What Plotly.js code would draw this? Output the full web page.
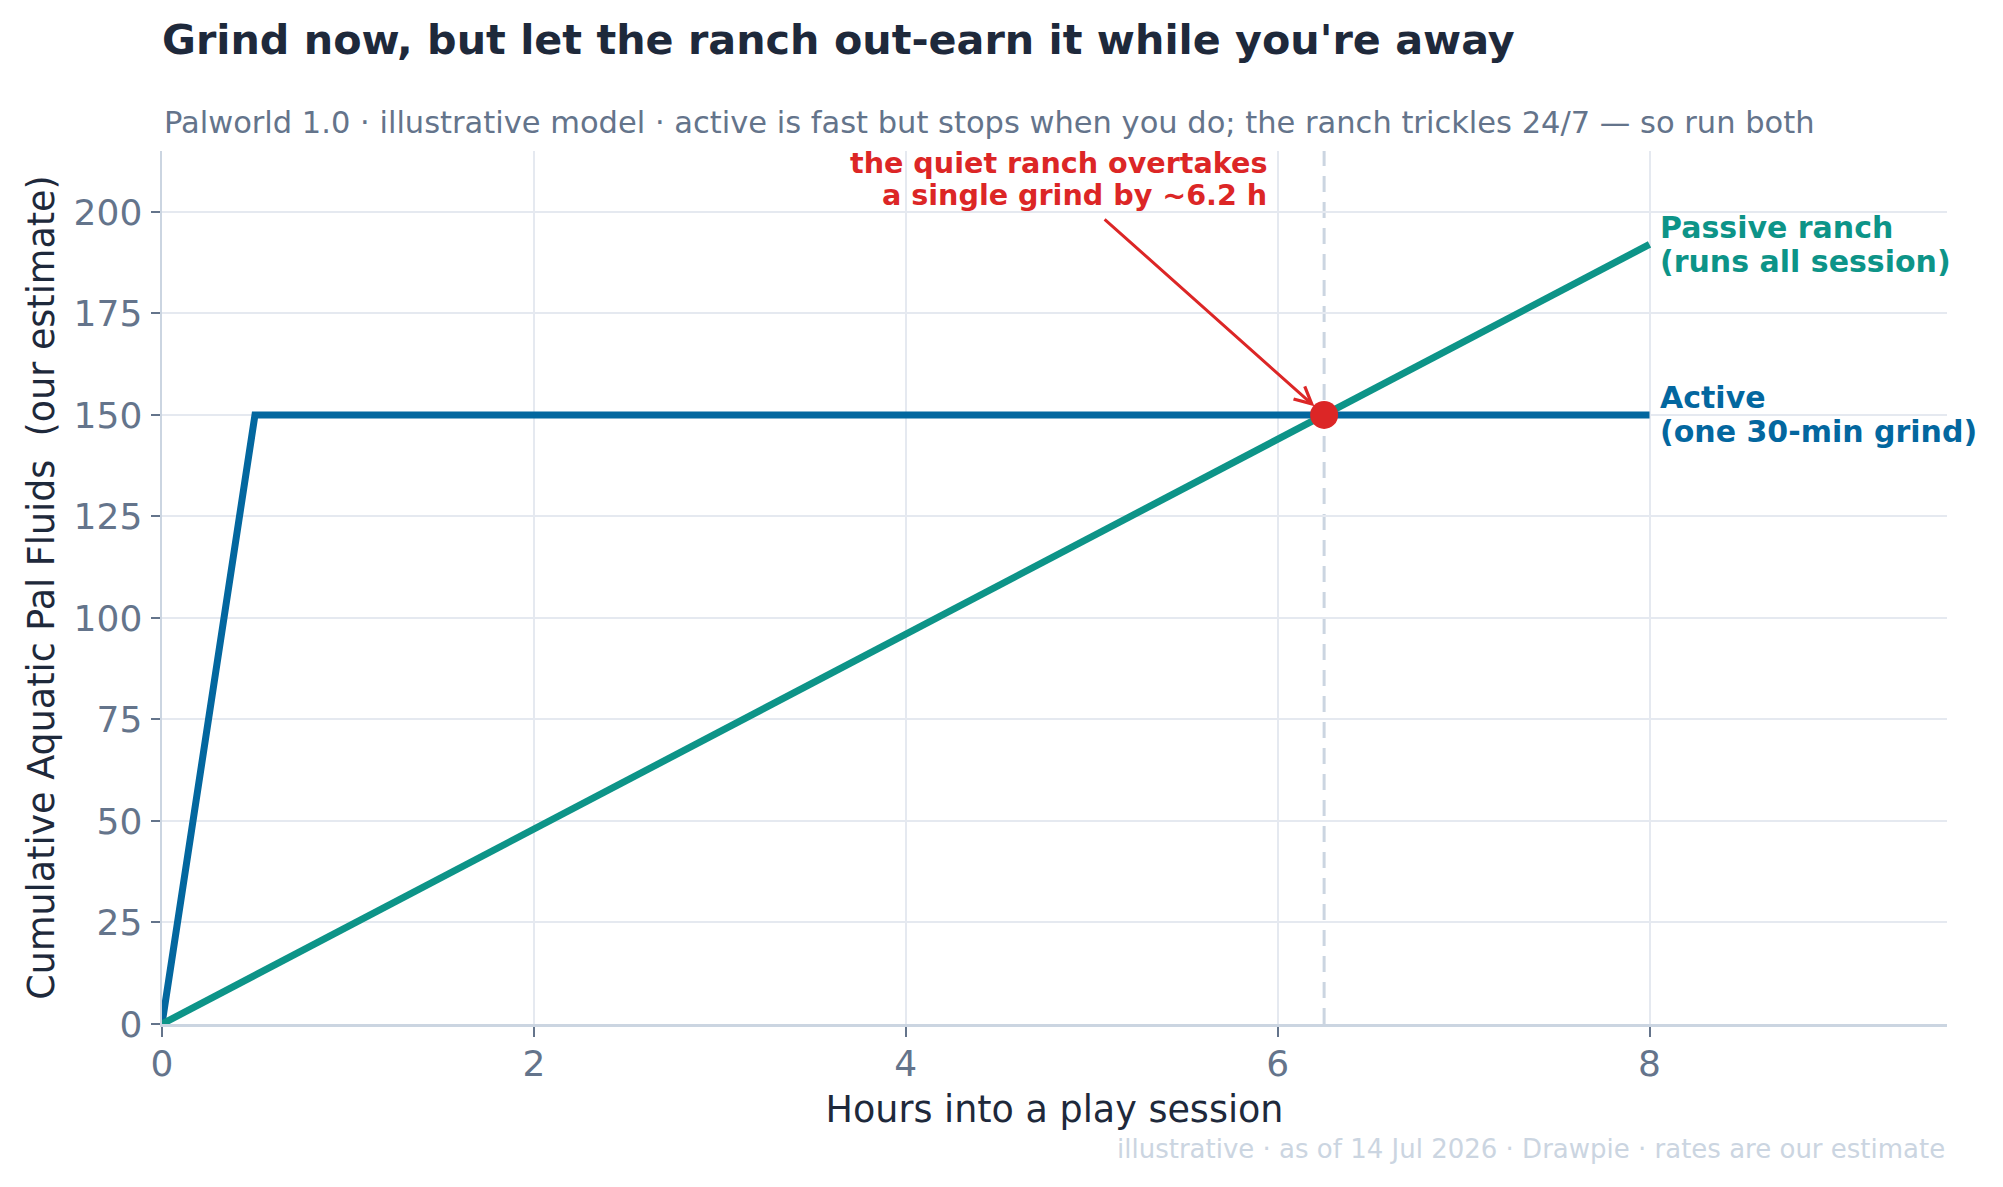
<!DOCTYPE html>
<html>
<head>
<meta charset="utf-8">
<script src="https://cdn.plot.ly/plotly-3.0.1.min.js"></script>
<style>html,body{margin:0;padding:0;background:#fff;}#chart{width:2003px;height:1187px;}</style>
</head>
<body>
<div id="chart"></div>
<script>
// ---- data ----
const activeHours = [0, 0.5, 8];
const activeFluids = [0, 150, 150];
const passiveHours = [0, 8];
const passiveFluids = [0, 192];
const crossHour = [6.25];
const crossFluids = [150];
const xTicks = [0, 2, 4, 6, 8];
const yTicks = [0, 25, 50, 75, 100, 125, 150, 175, 200];

const titleText = "Grind now, but let the ranch out-earn it while you're away";
const subtitleText = "Palworld 1.0 · illustrative model · active is fast but stops when you do; the ranch trickles 24/7 — so run both";
const footerText = "illustrative · as of 14 Jul 2026 · Drawpie · rates are our estimate";
const activeLabelLines = ["Active", "(one 30-min grind)"];
const passiveLabelLines = ["Passive ranch", "(runs all session)"];
const crossLabelLines = ["the quiet ranch overtakes", "a single grind by ~6.2 h"];

const FONT = "DejaVu Sans, sans-serif";
const BLUE = "#03679f", TEAL = "#0d9488", RED = "#dc2626";

const traces = [
  {x: activeHours, y: activeFluids, mode: "lines", line: {color: BLUE, width: 7}, hoverinfo: "skip"},
  {x: passiveHours, y: passiveFluids, mode: "lines", line: {color: TEAL, width: 7}, hoverinfo: "skip"},
  {x: crossHour, y: crossFluids, mode: "markers", marker: {color: RED, size: 28}, hoverinfo: "skip"}
];

const annotations = [
  {xref: "paper", yref: "paper", x: 0, y: (1024.5-122)/873.5, xanchor: "left", yanchor: "middle",
   text: subtitleText, showarrow: false, font: {family: FONT, size: 30.5, color: "#64748b"}},
  {xref: "paper", yref: "paper", x: 1, y: (1024.5-1150)/873.5, xanchor: "right", yanchor: "middle",
   text: footerText, showarrow: false, font: {family: FONT, size: 26, color: "#cbd5e1"}},
  {xref: "x", yref: "y", x: crossHour[0], y: crossFluids[0],
   text: "", showarrow: true, ax: -221, ay: -197, arrowcolor: RED, arrowwidth: 3,
   arrowhead: 5, arrowsize: 1.1, standoff: 13}
];
const shifts = [17, -17];
passiveLabelLines.forEach((t, i) => annotations.push({
  xref: "x", yref: "y", x: passiveHours[passiveHours.length-1], y: passiveFluids[passiveFluids.length-1],
  xanchor: "left", yanchor: "middle", xshift: 8, yshift: shifts[i],
  text: "<b>" + t + "</b>", showarrow: false, font: {family: FONT, size: 30, color: TEAL}}));
activeLabelLines.forEach((t, i) => annotations.push({
  xref: "x", yref: "y", x: activeHours[activeHours.length-1], y: activeFluids[activeFluids.length-1],
  xanchor: "left", yanchor: "middle", xshift: 8, yshift: shifts[i],
  text: "<b>" + t + "</b>", showarrow: false, font: {family: FONT, size: 30, color: BLUE}}));
const redShifts = [252, 220];
crossLabelLines.forEach((t, i) => annotations.push({
  xref: "x", yref: "y", x: crossHour[0], y: crossFluids[0],
  xanchor: "right", yanchor: "middle", xshift: -55, yshift: redShifts[i],
  text: "<b>" + t + "</b>", showarrow: false, font: {family: FONT, size: 28.6, color: RED}}));

const layout = {
  width: 2003, height: 1187,
  margin: {l: 162, r: 56, t: 151, b: 163},
  paper_bgcolor: "#ffffff", plot_bgcolor: "#ffffff",
  showlegend: false,
  font: {family: FONT, color: "#64748b"},
  title: {
    text: "<b>" + titleText + "</b>",
    font: {family: FONT, size: 41.3, color: "#1e293b"},
    xref: "paper", x: 0, xanchor: "left",
    yref: "container", y: 1 - 40/1187, yanchor: "middle"
  },
  xaxis: {
    range: [0, 9.6], tickvals: xTicks, ticktext: xTicks.map(String),
    showgrid: true, gridcolor: "#e5e9f0", gridwidth: 2,
    zeroline: false, showline: true, linecolor: "#cbd5e1", linewidth: 2.5,
    ticks: "outside", ticklen: 10, tickwidth: 2, tickcolor: "#64748b",
    ticklabelstandoff: -4, automargin: true,
    tickfont: {family: FONT, size: 36, color: "#64748b"},
    title: {text: "Hours into a play session", font: {family: FONT, size: 36.5, color: "#1e293b"}, standoff: 14}
  },
  yaxis: {
    range: [0, 215], tickvals: yTicks, ticktext: yTicks.map(String),
    showgrid: true, gridcolor: "#e5e9f0", gridwidth: 2,
    zeroline: false, showline: true, linecolor: "#cbd5e1", linewidth: 2.5,
    ticks: "outside", ticklen: 9, tickwidth: 2, tickcolor: "#64748b",
    ticklabelstandoff: 1,
    tickfont: {family: FONT, size: 36, color: "#64748b"},
    title: {text: "Cumulative Aquatic Pal Fluids  (our estimate)", font: {family: FONT, size: 36.5, color: "#1e293b"}, standoff: 8}
  },
  shapes: [
    {type: "line", xref: "x", yref: "paper", x0: crossHour[0], x1: crossHour[0], y0: 0, y1: 1,
     line: {color: "#cbd5e1", width: 3, dash: "16px,10px"}, layer: "below"}
  ],
  annotations: annotations
};

Plotly.newPlot("chart", traces, layout, {displayModeBar: false, staticPlot: true});
</script>
</body>
</html>
